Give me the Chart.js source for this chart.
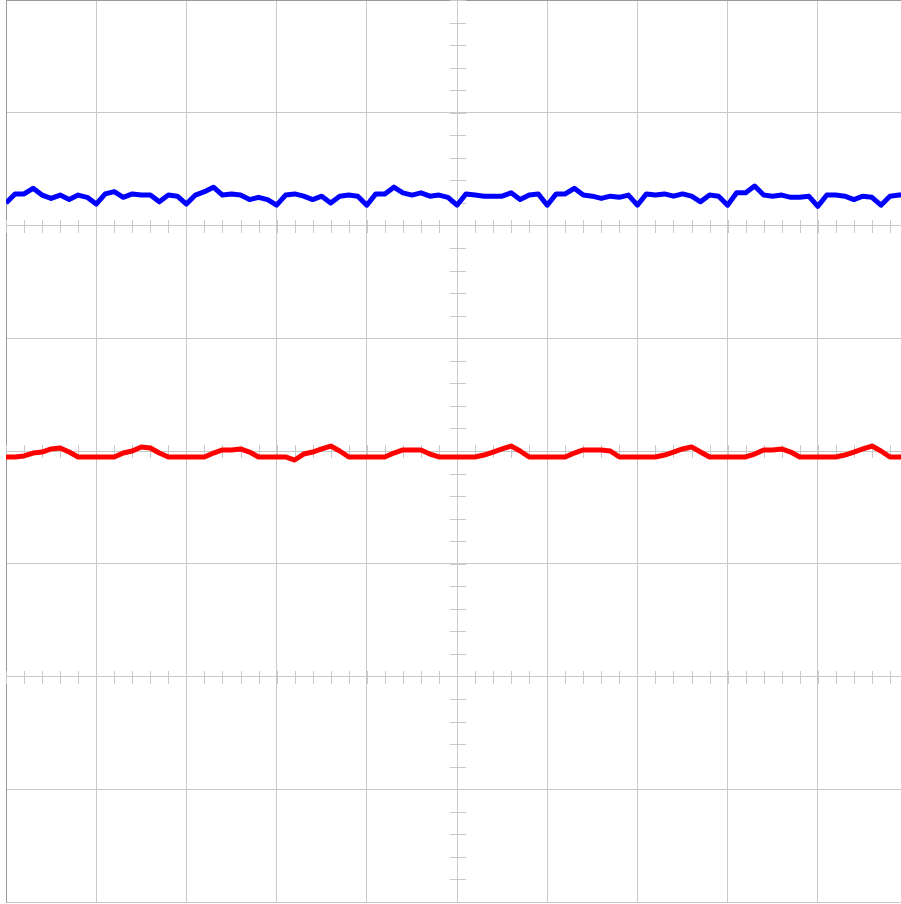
<!DOCTYPE html>
<html>
<head>
<meta charset="utf-8">
<script src="https://cdn.jsdelivr.net/npm/chart.js@4/dist/chart.umd.min.js"></script>
<style>
  html, body { margin: 0; padding: 0; overflow: hidden; background: #fff; }
  #wrap { position: absolute; left: 0; top: 0; }
</style>
</head>
<body>
<div id="wrap"><canvas id="scope" width="908" height="904"></canvas></div>
<script>
// one sample every 0.1 division, 10 divisions across
var sampleStep = 0.1;

// channel 1 (blue), in divisions
var ch1 = [
  2.20, 2.28, 2.28, 2.33, 2.27, 2.24, 2.27, 2.23, 2.27, 2.25,
  2.19, 2.28, 2.30, 2.25, 2.28, 2.27, 2.27, 2.21, 2.27, 2.26,
  2.19, 2.27, 2.30, 2.34, 2.27, 2.28, 2.27, 2.23, 2.25, 2.23,
  2.18, 2.27, 2.28, 2.26, 2.23, 2.26, 2.20, 2.26, 2.27, 2.26,
  2.18, 2.28, 2.28, 2.34, 2.29, 2.27, 2.29, 2.26, 2.27, 2.25,
  2.18, 2.28, 2.27, 2.26, 2.26, 2.26, 2.29, 2.23, 2.27, 2.28,
  2.18, 2.28, 2.28, 2.33, 2.27, 2.26, 2.24, 2.26, 2.25, 2.27,
  2.18, 2.28, 2.27, 2.28, 2.26, 2.28, 2.26, 2.21, 2.27, 2.26,
  2.18, 2.29, 2.29, 2.35, 2.27, 2.26, 2.27, 2.25, 2.25, 2.26,
  2.17, 2.27, 2.27, 2.26, 2.23, 2.26, 2.25, 2.18, 2.26, 2.27,
  2.27
];

// channel 2 (red), in divisions
var ch2 = [
  -0.053, -0.053, -0.044, -0.018, -0.009, 0.018, 0.027, -0.009, -0.053, -0.053,
  -0.053, -0.053, -0.053, -0.018, 0, 0.036, 0.027, -0.018, -0.053, -0.053,
  -0.053, -0.053, -0.053, -0.018, 0.009, 0.009, 0.018, -0.009, -0.053, -0.053,
  -0.053, -0.053, -0.080, -0.027, -0.009, 0.018, 0.044, 0, -0.053, -0.053,
  -0.053, -0.053, -0.053, -0.018, 0.009, 0.009, 0.009, -0.027, -0.053, -0.053,
  -0.053, -0.053, -0.053, -0.036, -0.009, 0.018, 0.044, 0, -0.053, -0.053,
  -0.053, -0.053, -0.053, -0.018, 0.009, 0.009, 0.009, 0, -0.053, -0.053,
  -0.053, -0.053, -0.053, -0.036, -0.009, 0.018, 0.036, -0.009, -0.053, -0.053,
  -0.053, -0.053, -0.053, -0.027, 0.009, 0.009, 0.018, -0.009, -0.053, -0.053,
  -0.053, -0.053, -0.053, -0.036, -0.009, 0.018, 0.044, 0, -0.053, -0.053,
  -0.053
];

var xRange = [0, 10];
var yRange = [-4, 4];
var minorStep = 0.2;
var xCenter = 5;
var tickRows = [2, 0, -2];   // rows that carry small x ticks

function toPoints(arr) {
  return arr.map(function (v, i) {
    return { x: i * sampleStep, y: v };
  });
}

// small graticule ticks on the centre lines
var graticule = {
  id: 'graticule',
  beforeDatasetsDraw: function (chart) {
    var ctx = chart.ctx;
    var x = chart.scales.x, y = chart.scales.y;
    ctx.save();
    ctx.strokeStyle = '#c8c8c8';
    ctx.lineWidth = 1;
    ctx.beginPath();
    var cx = Math.round(x.getPixelForValue(xCenter));
    for (var v = yRange[0]; v <= yRange[1] + 1e-9; v += minorStep) {
      var py = Math.round(y.getPixelForValue(v)) + 0.5;
      ctx.moveTo(cx - 7, py);
      ctx.lineTo(cx + 9, py);
    }
    tickRows.forEach(function (row) {
      var ry = Math.round(y.getPixelForValue(row));
      for (var u = xRange[0]; u <= xRange[1] + 1e-9; u += minorStep) {
        var px = Math.round(x.getPixelForValue(u)) + 0.5;
        ctx.moveTo(px, ry - 6);
        ctx.lineTo(px, ry + 7);
      }
    });
    ctx.stroke();
    ctx.restore();
  }
};

var chart = new Chart('scope', {
  type: 'line',
  data: {
    datasets: [{
      label: 'CH1',
      data: toPoints(ch1),
      borderColor: '#0000ff',
      borderWidth: 5,
      pointRadius: 0,
      tension: 0,
      borderJoinStyle: 'round'
    }, {
      label: 'CH2',
      data: toPoints(ch2),
      borderColor: '#ff0000',
      borderWidth: 5,
      pointRadius: 0,
      tension: 0,
      borderJoinStyle: 'round'
    }]
  },
  options: {
    responsive: false,
    animation: false,
    layout: { padding: { left: 6, top: 0, right: 0, bottom: 2 } },
    plugins: {
      legend: { display: false },
      tooltip: { enabled: false }
    },
    scales: {
      x: {
        type: 'linear',
        position: 'top',
        min: xRange[0],
        max: xRange[1],
        ticks: { display: false, stepSize: 1 },
        grid: { color: '#c8c8c8', drawTicks: false },
        border: { color: '#999' }
      },
      y: {
        type: 'linear',
        position: 'left',
        min: yRange[0],
        max: yRange[1],
        ticks: { display: false, stepSize: 1 },
        grid: { color: '#c8c8c8', drawTicks: false },
        border: { color: '#999' }
      }
    }
  },
  plugins: [graticule]
});
</script>
</body>
</html>
